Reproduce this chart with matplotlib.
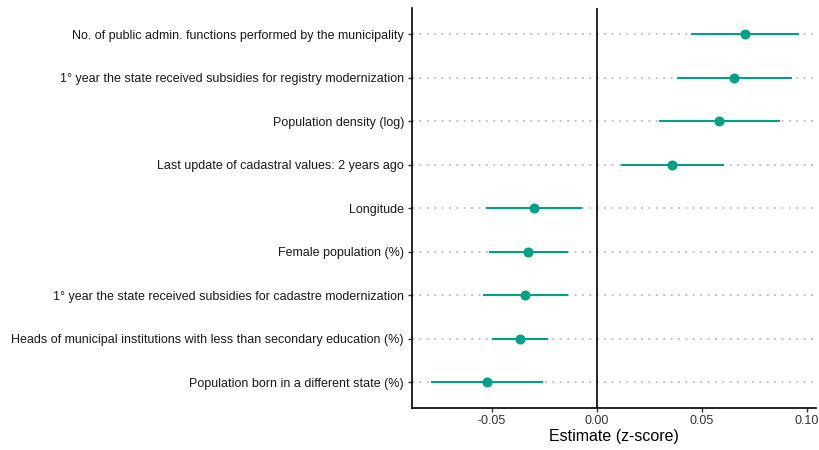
import matplotlib
matplotlib.use("Agg")
import matplotlib.pyplot as plt

# Coefficient estimates with confidence intervals (top to bottom)
terms = [
    "No. of public admin. functions performed by the municipality",
    "1° year the state received subsidies for registry modernization",
    "Population density (log)",
    "Last update of cadastral values: 2 years ago",
    "Longitude",
    "Female population (%)",
    "1° year the state received subsidies for cadastre modernization",
    "Heads of municipal institutions with less than secondary education (%)",
    "Population born in a different state (%)",
]
estimate = [0.0706, 0.0655, 0.0584, 0.0360, -0.0299, -0.0326, -0.0341, -0.0365, -0.0524]
conf_low = [0.0448, 0.0381, 0.0298, 0.0114, -0.0529, -0.0513, -0.0541, -0.0497, -0.0790]
conf_high = [0.0963, 0.0932, 0.0873, 0.0606, -0.0068, -0.0138, -0.0138, -0.0233, -0.0254]

teal = "#00A087"
plt.rcParams["font.family"] = ["Liberation Sans", "DejaVu Sans"]

fig = plt.figure(figsize=(8.2, 4.5), dpi=100)
ax = fig.add_axes([0.5028, 0.0927, 0.4923, 0.8889])

n = len(terms)
ypos = list(range(n, 0, -1))

# dotted guide lines per row
for y in ypos:
    ax.axhline(y, color="#C4C4C4", lw=1.4, linestyle=(0, (1, 2.8)), zorder=0)
ax.axvline(0, color="black", lw=1.2, zorder=1)

ax.hlines(ypos, conf_low, conf_high, color=teal, lw=1.5, zorder=2)
ax.plot(estimate, ypos, "o", color=teal, markersize=6.2, zorder=3)

ax.set_yticks(ypos)
ax.set_yticklabels(terms, fontsize=9, color="#1A1A1A")
ax.set_xticks([-0.05, 0.0, 0.05, 0.10])
ax.set_xticklabels(["-0.05", "0.00", "0.05", "0.10"], fontsize=9, color="#333333")
ax.set_xlim(-0.0878, 0.1044)
ax.set_ylim(0.4, n + 0.6)
ax.set_xlabel("Estimate (z-score)", fontsize=11.5, labelpad=2)

for side in ["top", "right"]:
    ax.spines[side].set_visible(False)
for side in ["left", "bottom"]:
    ax.spines[side].set_linewidth(1.2)
ax.tick_params(axis="both", length=3, width=1, color="#333333", pad=3)
ax.tick_params(axis="x", pad=1.5)

fig.savefig("out.png", dpi=100)
